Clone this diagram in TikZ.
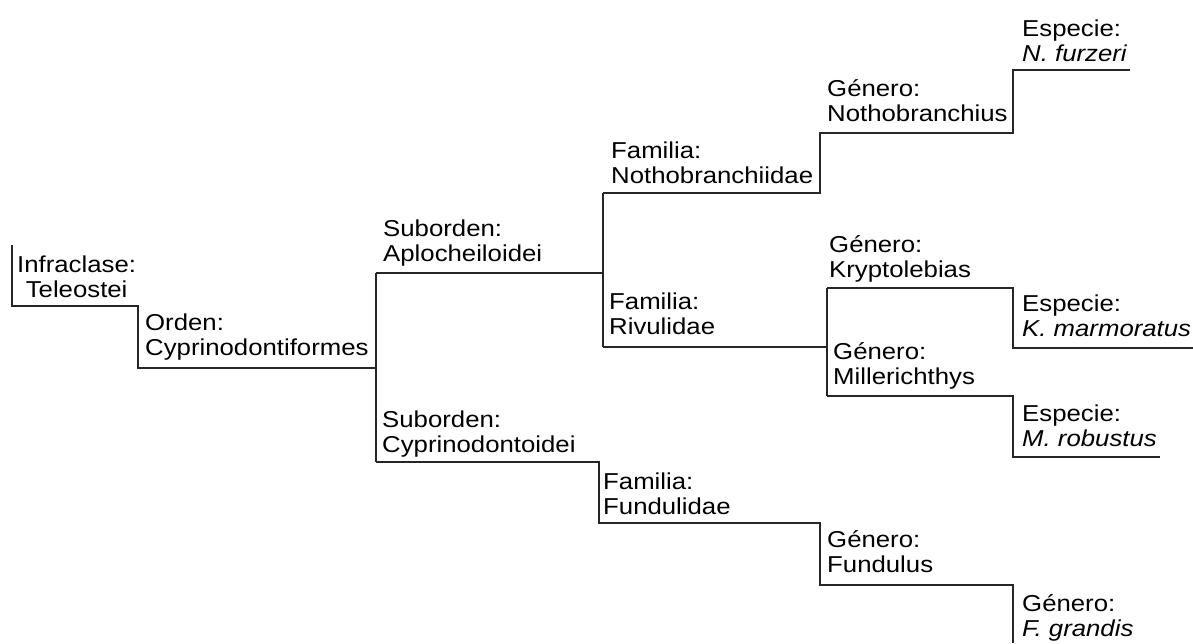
\documentclass[tikz,border=0pt]{standalone}
\usepackage{fontspec}
\setmainfont{Liberation Sans}[FakeStretch=1.12]
\usetikzlibrary{positioning}
\tikzset{
    branch/.style={draw=black!85, line width=1.7pt},
    taxon/.style={inner sep=0pt, align=left, text depth=0pt, font=\fontsize{23}{25.5}\selectfont},
}

\begin{document}
\begin{tikzpicture}[x=1pt, y=-1pt]
    \useasboundingbox (0,0) rectangle (1193,643);

    \coordinate (root) at (12,245);
    \coordinate (infra) at (12,306);
    \coordinate (ord) at (138,306);
    \coordinate (ordend) at (376,368);
    \coordinate (ordL) at (138,368);
    \coordinate (aplo) at (376,273);
    \coordinate (cypr) at (376,462);
    \coordinate (aploend) at (603,273);
    \coordinate (noth) at (603,193);
    \coordinate (rivu) at (603,347);
    \coordinate (nothg) at (820,133);
    \coordinate (nothe) at (1013,70);
    \coordinate (nothend) at (1130,70);
    \coordinate (rivuend) at (827,347);
    \coordinate (kryp) at (827,288);
    \coordinate (mill) at (827,396);
    \coordinate (krype) at (1013,348);
    \coordinate (krypend) at (1193,348);
    \coordinate (mille) at (1013,457);
    \coordinate (millend) at (1160,457);
    \coordinate (fund) at (599,523);
    \coordinate (fundg) at (820,585);
    \coordinate (funde) at (1013,643);

    \node[taxon, align=center, above right=8pt and 5pt of infra] (infraclase) {Infraclase:\\Teleostei};
    \node[taxon, above right=12pt and 7pt of ordL] (orden) {Orden:\\Cyprinodontiformes};
    \node[taxon, above right=11pt and 7pt of aplo] (aplocheiloidei) {Suborden:\\Aplocheiloidei};
    \node[taxon, above right=9pt and 6pt of cypr] (cyprinodontoidei) {Suborden:\\Cyprinodontoidei};
    \node[taxon, above right=9pt and 8pt of noth] (nothobranchiidae) {Familia:\\Nothobranchiidae};
    \node[taxon, above right=12pt and 6pt of rivu] (rivulidae) {Familia:\\Rivulidae};
    \node[taxon, above right=8pt and 4pt of fund] (fundulidae) {Familia:\\Fundulidae};
    \node[taxon, above right=11pt and 7pt of nothg] (nothobranchius) {Género:\\Nothobranchius};
    \node[taxon, above right=10pt and 2pt of kryp] (kryptolebias) {Género:\\Kryptolebias};
    \node[taxon, above right=11pt and 6pt of mill] (millerichthys) {Género:\\Millerichthys};
    \node[taxon, above right=12pt and 7pt of fundg] (fundulus) {Género:\\Fundulus};
    \node[taxon, above right=8pt and 9pt of nothe] (furzeri) {Especie:\\\textit{N. furzeri}};
    \node[taxon, above right=11pt and 9pt of krype] (marmoratus) {Especie:\\\textit{K. marmoratus}};
    \node[taxon, above right=10pt and 9pt of mille] (robustus) {Especie:\\\textit{M. robustus}};
    \node[taxon, above right=6pt and 9pt of funde] (grandis) {Género:\\\textit{F. grandis}};

    \draw[branch] (root) |- (ord) |- (ordend);
    \draw[branch] (aplo) -- (cypr);
    \draw[branch] (aplo) -- (aploend);
    \draw[branch] (noth) -- (rivu);
    \draw[branch] (noth) -| (nothg) -| (nothe) -- (nothend);
    \draw[branch] (rivu) -- (rivuend);
    \draw[branch] (kryp) -- (mill);
    \draw[branch] (kryp) -| (krype) -- (krypend);
    \draw[branch] (mill) -| (mille) -- (millend);
    \draw[branch] (cypr) -| (fund) -| (fundg) -| (funde);
\end{tikzpicture}
\end{document}
